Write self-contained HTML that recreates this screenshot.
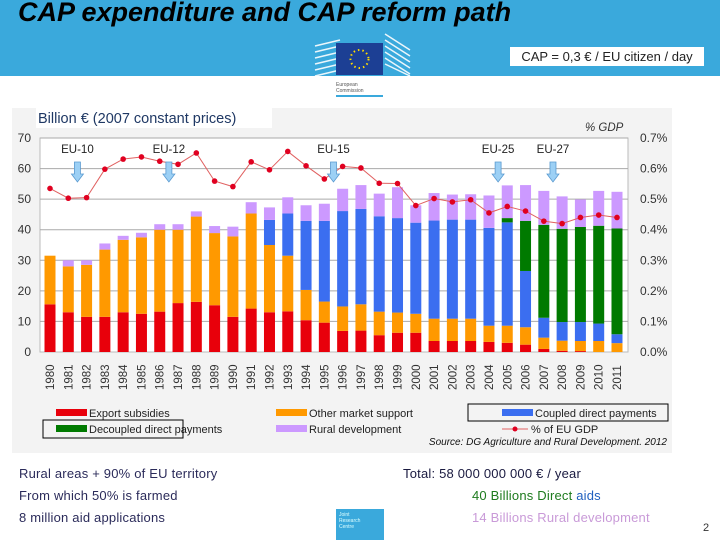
<!DOCTYPE html>
<html><head><meta charset="utf-8"><style>
body{margin:0;width:720px;height:540px;overflow:hidden;background:#fff;font-family:"Liberation Sans",sans-serif;position:relative}
.a{position:absolute}
.bt{font-size:13px;color:#2b2b5a;letter-spacing:0.2px}
</style></head><body>
<div class="a" style="left:0;top:0;width:720px;height:76px;background:#3aa9dc"></div>
<div class="a" style="left:18px;top:-3px;font-size:27px;font-weight:bold;font-style:italic;color:#000">CAP expenditure and CAP reform path</div>
<svg class="a" style="left:310px;top:26px" width="105" height="72">
<g stroke="#fff" stroke-width="1.5" opacity="0.9">
<line x1="5" y1="20" x2="30" y2="14"/><line x1="5" y1="26" x2="30" y2="20"/><line x1="5" y1="32" x2="30" y2="26"/><line x1="5" y1="38" x2="30" y2="32"/><line x1="5" y1="44" x2="30" y2="38"/><line x1="5" y1="50" x2="30" y2="44"/>
<line x1="75" y1="8" x2="100" y2="24"/><line x1="75" y1="14" x2="100" y2="30"/><line x1="75" y1="20" x2="100" y2="36"/><line x1="75" y1="26" x2="100" y2="42"/><line x1="75" y1="32" x2="100" y2="48"/><line x1="75" y1="38" x2="100" y2="50"/>
</g>
<rect x="26" y="17" width="47" height="32" fill="#1c3f94"/>
<circle cx="49.5" cy="33" r="9" fill="none" stroke="#ffdd00" stroke-width="2" stroke-dasharray="1.5 3"/>
<text x="26" y="60" font-size="5" fill="#555">European</text><text x="26" y="66" font-size="5" fill="#555">Commission</text>
<rect x="26" y="69" width="47" height="2" fill="#3aa9dc"/>
</svg>
<div class="a" style="left:510px;top:47px;width:194px;height:19px;background:#fff;font-size:13px;line-height:19px;text-align:center;color:#222">CAP = 0,3 € / EU citizen / day</div>

<svg class="a" id="chart" style="left:0;top:0" width="720" height="540"></svg>

<div class="a bt" style="left:19px;top:466px">Rural areas + 90% of EU territory</div>
<div class="a bt" style="left:19px;top:488px">From which 50% is farmed</div>
<div class="a bt" style="left:19px;top:510px">8 million aid applications</div>
<div class="a bt" style="left:403px;top:466px;color:#1a1a40">Total: 58 000 000 000 € / year</div>
<div class="a bt" style="left:472px;top:488px;color:#1e7b1e">40 Billions Direct <span style="color:#1f5fbf">aids</span></div>
<div class="a bt" style="left:472px;top:510px;color:#c99ad8">14 Billions Rural development</div>
<div class="a" style="left:336px;top:509px;width:48px;height:31px;background:#3aa9dc;font-size:5px;color:#dff;padding:3px;box-sizing:border-box">Joint<br>Research<br>Centre</div>
<div class="a" style="left:703px;top:522px;font-size:11px;color:#333">2</div>

<script>
const years=[];for(let y=1980;y<=2011;y++)years.push(String(y));
const exportSub=[15.6,13,11.5,11.5,13,12.5,13.2,16,16.4,15.3,11.5,14.2,13,13.3,10.4,9.6,6.9,7,5.5,6.3,6.3,3.6,3.6,3.6,3.3,3,2.4,1,0.4,0.3,0,0];
const otherMarket=[15.9,15,17,22,23.7,25,26.8,24,27.9,23.6,26.3,31.1,22,18.2,9.9,6.9,8,8.6,7.7,6.6,6.2,7.3,7.3,7.3,5.3,5.6,5.7,3.7,3.3,3.3,3.6,2.9];
const coupled=[0,0,0,0,0,0,0,0,0,0,0,0,8.2,13.8,22.6,26.4,31.2,31.2,31.2,30.9,29.8,32.1,32.4,32.4,32,33.8,18.4,6.5,6.1,6.2,5.7,2.9];
const decoupled=[0,0,0,0,0,0,0,0,0,0,0,0,0,0,0,0,0,0,0,0,0,0,0,0,0,1.4,16.4,30.4,30.5,31.1,32,34.6];
const rural=[0,2,1.5,2,1.3,1.5,1.8,1.8,1.7,2.3,3.2,3.7,4.1,5.3,5.1,5.6,7.3,7.8,7.4,10.1,5.7,9,8.2,8.3,10.6,10.7,11.7,11.1,10.6,9,11.4,12];
const gdpPct=[0.535,0.503,0.505,0.598,0.631,0.638,0.624,0.614,0.651,0.559,0.541,0.622,0.596,0.656,0.609,0.566,0.607,0.602,0.552,0.551,0.479,0.502,0.491,0.498,0.455,0.476,0.461,0.428,0.42,0.44,0.448,0.44];
const leftTicks=[0,10,20,30,40,50,60,70];
const rightTicks=["0.0%","0.1%","0.2%","0.3%","0.4%","0.5%","0.6%","0.7%"];
const enlargements=[["EU-10",1.5],["EU-12",6.5],["EU-15",15.5],["EU-25",24.5],["EU-27",27.5]];

const svg=document.getElementById('chart');const NS='http://www.w3.org/2000/svg';
function el(t,a,p){const e=document.createElementNS(NS,t);for(const k in a)e.setAttribute(k,a[k]);(p||svg).appendChild(e);return e;}
const X0=50,DX=18.29,Y0=352,Y1=138,PL=40,PR=628;
const xs=i=>X0+i*DX;const ys=v=>Y0-v/70*(Y0-Y1);const yp=p=>ys(p*100);

let e=el('rect',{x:12,y:108,width:660,height:345,fill:'#f3f3f3'});

e=el('rect',{x:PL,y:Y1,width:PR-PL,height:Y0-Y1,fill:'#fff',stroke:'#bbb'});

leftTicks.forEach((t,i)=>{
 const y=ys(t);
 if(t>0){e=el('line',{x1:PL,x2:PR,y1:y,y2:y,stroke:'#aaa','stroke-width':1});}
 e=el('text',{x:31,y:y+4,'font-size':12,'text-anchor':'end',fill:'#333'});e.textContent=t;
 
 e=el('text',{x:640,y:y+4,'font-size':12,fill:'#333'});e.textContent=rightTicks[i];
 
});
const series=[[exportSub,'#e8000b','export'],[otherMarket,'#ff9900','other'],[coupled,'#3b6ef0','coupled'],[decoupled,'#007a00','decoupled'],[rural,'#cc99ff','rural']];
years.forEach((yr,i)=>{
 let base=0;
 series.forEach(([arr,c,n])=>{
  const v=arr[i];if(v>0){
   e=el('rect',{x:xs(i)-5.5,y:ys(base+v),width:11,height:ys(base)-ys(base+v),fill:c});
   }
  base+=v;});
 e=el('text',{transform:`translate(${xs(i)+4},390) rotate(-90)`,'font-size':11.5,fill:'#333'});e.textContent=yr;
 
});
e=el('polyline',{points:gdpPct.map((p,i)=>xs(i)+','+yp(p)).join(' '),fill:'none',stroke:'#e06060','stroke-width':1});

gdpPct.forEach((p,i)=>{e=el('circle',{cx:xs(i),cy:yp(p),r:2.8,fill:'#e00020'});});
enlargements.forEach(([lab,pos])=>{
 const x=xs(pos);
 e=el('text',{x:x,y:153,'font-size':11.5,'text-anchor':'middle',fill:'#222'});e.textContent=lab;
 
 e=el('path',{d:`M${x-3},162 h6 v12 h3 l-6,8 l-6,-8 h3 z`,fill:'#9cd0f5',stroke:'#5a9ad0','stroke-width':0.8});
 
});
e=el('rect',{x:36,y:108,width:236,height:20,fill:'#fff'});
e=el('text',{x:38,y:123,'font-size':14.5,fill:'#1f3864'});e.textContent='Billion € (2007 constant prices)';

e=el('text',{x:585,y:131,'font-size':11.5,'font-style':'italic',fill:'#333'});e.textContent='% GDP';

const legend=[['Export subsidies','#e8000b',56,413],['Other market support','#ff9900',276,413],['Coupled direct payments','#3b6ef0',502,413],['Decoupled direct payments','#007a00',56,429],['Rural development','#cc99ff',276,429]];
legend.forEach(([t,c,x,y])=>{
 e=el('rect',{x:x,y:y-4,width:31,height:7,fill:c});
 e=el('text',{x:x+33,y:y+4,'font-size':11,fill:'#222'});e.textContent=t;
});
el('rect',{x:468,y:404,width:200,height:17,fill:'none',stroke:'#000'});
el('rect',{x:43,y:420,width:140,height:18,fill:'none',stroke:'#000'});
el('line',{x1:502,x2:528,y1:429,y2:429,stroke:'#e06060'});el('circle',{cx:515,cy:429,r:2.5,fill:'#e00020'});
e=el('text',{x:531,y:433,'font-size':11,fill:'#222'});e.textContent='% of EU GDP';
e=el('text',{x:667,y:445,'font-size':10,'font-style':'italic','text-anchor':'end',fill:'#111'});e.textContent='Source: DG Agriculture and Rural Development. 2012';

</script>
</body></html>
